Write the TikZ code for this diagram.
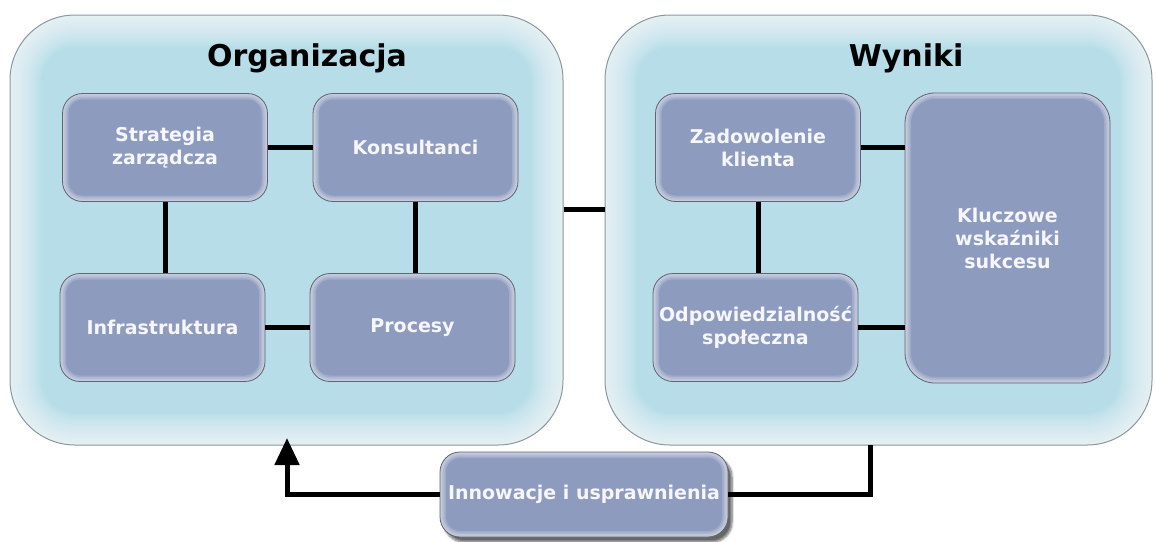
\documentclass[tikz,border=0pt]{standalone}
\usepackage{fontspec}
\setmainfont{DejaVu Sans}
\usetikzlibrary{arrows.meta,shadows.blur}

\definecolor{panelColor}{RGB}{182,221,232}
\definecolor{panelLine}{RGB}{140,150,165}
\definecolor{boxColor}{RGB}{141,155,190}
\definecolor{boxLine}{RGB}{95,100,115}
\definecolor{labelColor}{RGB}{246,246,252}

\tikzset{
  panel/.style={draw=panelLine, line width=1pt, fill=panelColor, rounded corners=65pt,
    minimum height=430pt, inner sep=0pt,
    path picture={\foreach \w in {64,60,...,4}
      \draw[white, opacity=.07, line width=\w pt, rounded corners=65pt]
        (path picture bounding box.south west) rectangle (path picture bounding box.north east);}},
  block/.style={draw=boxLine, line width=.8pt, fill=boxColor, rounded corners=#1,
    minimum width=205pt, minimum height=108pt, inner sep=2pt, align=center,
    text=labelColor, font=\fontsize{19}{23}\selectfont\bfseries,
    path picture={\foreach \w in {12,9,6,3}
      \draw[white, opacity=.16, line width=\w pt, rounded corners=#1]
        (path picture bounding box.south west) rectangle (path picture bounding box.north east);}},
  block/.default=20pt,
  title/.style={font=\fontsize{30}{36}\selectfont\bfseries},
  link/.style={line width=5pt}
}

\begin{document}
\begin{tikzpicture}[x=1pt,y=-1pt]
  \useasboundingbox (0,0) rectangle (1156,541);
  % Panels
  \node[panel, minimum width=553pt] (org) at (286.5,230) {};
  \node[panel, minimum width=547pt] (wyn) at (878.5,230) {};
  \node[title] (orgTitle) at (307,58) {Organizacja};
  \node[title] (wynTitle) at (906,58) {Wyniki};
  % Organizacja
  \node[block] (strategia) at (165,147.5) {Strategia\\zarządcza};
  \node[block] (konsultanci) at (415.5,147.5) {Konsultanci};
  \node[block] (infra) at (162.5,327.5) {Infrastruktura};
  \node[block] (procesy) at (412.5,327.5) {Procesy};
  % Wyniki
  \node[block] (zadowolenie) at (758,147.5) {Zadowolenie\\klienta};
  \node[block] (odpowiedzialnosc) at (755.5,327.5) {Odpowiedzialność\\społeczna};
  \node[block=30pt, minimum height=290pt] (kluczowe) at (1007.5,238)
    {\\[-8pt]Kluczowe\\wskaźniki\\sukcesu};
  % Feedback
  \node[block, minimum width=288pt, minimum height=85pt,
    blur shadow={shadow xshift=4pt, shadow yshift=-5pt, shadow blur steps=8, shadow opacity=60}]
    (innowacje) at (584,494.5) {Innowacje i usprawnienia};
  % Links
  \draw[link] (strategia.east) -- (konsultanci.west);
  \draw[link] (strategia.south) -- (strategia.south |- infra.north);
  \draw[link] (konsultanci.south) -- (konsultanci.south |- procesy.north);
  \draw[link] (infra.east) -- (procesy.west);
  \draw[link] (zadowolenie.south) -- (zadowolenie.south |- odpowiedzialnosc.north);
  \draw[link] (zadowolenie.east) -- (zadowolenie.east -| kluczowe.west);
  \draw[link] (odpowiedzialnosc.east) -- (odpowiedzialnosc.east -| kluczowe.west);
  \coordinate (bridge) at (584,209);
  \draw[link] (bridge -| org.east) -- (bridge -| wyn.west);
  \coordinate (feedIn) at (287,438);
  \coordinate (feedOut) at (870,445);
  \draw[link, -{Triangle[length=27pt,width=24pt]}] (innowacje.west) -| (feedIn);
  \draw[link] (innowacje.east) -| (feedOut);
\end{tikzpicture}
\end{document}
